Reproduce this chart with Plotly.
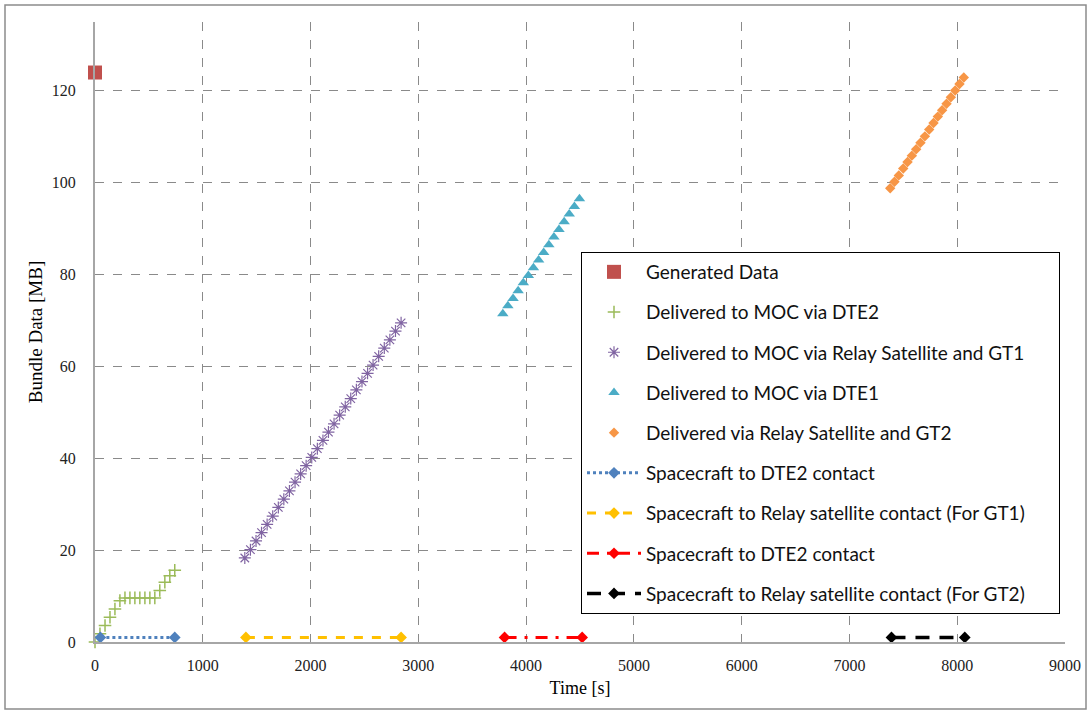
import plotly.graph_objects as go

# ---------------- data ----------------
gen_x = [0]
gen_y = [124]

dte2_x = [0, 46, 93, 139, 185, 231, 278, 324, 370, 416, 463, 509, 555, 601, 648, 694, 740]
dte2_y = [0, 1.8, 3.6, 5.4, 7.2, 9.0, 9.6, 9.6, 9.6, 9.6, 9.6, 9.6, 9.6, 11.2, 13.0, 14.4, 15.6]

gt1_x = [1390, 1442, 1494, 1545, 1597, 1649, 1701, 1752, 1804, 1856, 1908, 1959, 2011, 2063, 2115,
         2166, 2218, 2270, 2322, 2373, 2425, 2477, 2529, 2580, 2632, 2684, 2736, 2788, 2840]
gt1_y = [18.3, 20.1, 22.0, 23.8, 25.6, 27.4, 29.3, 31.1, 32.9, 34.8, 36.6, 38.4, 40.2, 42.1, 43.9,
         45.7, 47.5, 49.4, 51.2, 53.0, 54.9, 56.7, 58.5, 60.3, 62.2, 64.0, 65.8, 67.7, 69.5]

dte1_x = [3784, 3831, 3879, 3926, 3974, 4021, 4068, 4116, 4163, 4211, 4258, 4305, 4353, 4400, 4448, 4495]
dte1_y = [71.5, 73.2, 74.8, 76.5, 78.2, 79.8, 81.5, 83.2, 84.8, 86.5, 88.2, 89.8, 91.5, 93.2, 94.8, 96.5]

gt2_x = [7378, 7418, 7458, 7499, 7539, 7579, 7619, 7659, 7700, 7740, 7780, 7820, 7860, 7901, 7941,
         7981, 8021, 8061]
gt2_y = [98.8, 100.2, 101.6, 103.1, 104.5, 105.9, 107.3, 108.7, 110.1, 111.6, 113.0, 114.4, 115.8,
         117.2, 118.6, 120.1, 121.5, 122.9]

c_dte2_x = [50, 740]
c_dte2_y = [1, 1]
c_rel1_x = [1400, 2840]
c_rel1_y = [1, 1]
c_dte2b_x = [3800, 4520]
c_dte2b_y = [1, 1]
c_rel2_x = [7390, 8070]
c_rel2_y = [1, 1]

x_ticks = [0, 1000, 2000, 3000, 4000, 5000, 6000, 7000, 8000, 9000]
y_ticks = [0, 20, 40, 60, 80, 100, 120]

PAD = "\u00a0" * 6

# ---------------- figure ----------------
fig = go.Figure()

fig.add_trace(go.Scatter(x=gen_x, y=gen_y, mode="markers", name="Generated Data",
                         legendgroup="a", cliponaxis=False,
                         marker=dict(symbol="square", size=14, color="#C0504D")))
fig.add_trace(go.Scatter(x=dte2_x, y=dte2_y, mode="markers", name="Delivered to MOC via DTE2",
                         legendgroup="b", cliponaxis=False,
                         marker=dict(symbol="cross-thin-open", size=9, color="#9BBB59",
                                     line=dict(color="#9BBB59", width=1.5))))
fig.add_trace(go.Scatter(x=gt1_x, y=gt1_y, mode="markers",
                         name="Delivered to MOC via Relay Satellite and GT1" + PAD,
                         legendgroup="c", cliponaxis=False,
                         marker=dict(symbol="asterisk-open", size=10, color="#8064A2",
                                     line=dict(color="#8064A2", width=1.2))))
fig.add_trace(go.Scatter(x=dte1_x, y=dte1_y, mode="markers", name="Delivered to MOC via DTE1",
                         legendgroup="d", cliponaxis=False,
                         marker=dict(symbol="triangle-up", size=10, color="#4BACC6")))
fig.add_trace(go.Scatter(x=gt2_x, y=gt2_y, mode="markers", name="Delivered via Relay Satellite and GT2",
                         legendgroup="e", cliponaxis=False,
                         marker=dict(symbol="diamond", size=8, color="#F79646")))
fig.add_trace(go.Scatter(x=c_dte2_x, y=c_dte2_y, mode="lines+markers", name="Spacecraft to DTE2 contact",
                         legendgroup="f", cliponaxis=False,
                         line=dict(color="#4F81BD", width=3, dash="dot"),
                         marker=dict(symbol="diamond", size=9, color="#4F81BD")))
fig.add_trace(go.Scatter(x=c_rel1_x, y=c_rel1_y, mode="lines+markers",
                         name="Spacecraft to Relay satellite contact (For GT1)",
                         legendgroup="g", cliponaxis=False,
                         line=dict(color="#FFC000", width=3, dash="dash"),
                         marker=dict(symbol="diamond", size=9, color="#FFC000")))
fig.add_trace(go.Scatter(x=c_dte2b_x, y=c_dte2b_y, mode="lines+markers",
                         name="Spacecraft to DTE2 contact",
                         legendgroup="h", cliponaxis=False,
                         line=dict(color="#FF0000", width=3, dash="12px,8px,3px,8px"),
                         marker=dict(symbol="diamond", size=9, color="#FF0000")))
fig.add_trace(go.Scatter(x=c_rel2_x, y=c_rel2_y, mode="lines+markers",
                         name="Spacecraft to Relay satellite contact (For GT2)",
                         legendgroup="i", cliponaxis=False,
                         line=dict(color="#000000", width=3.5, dash="14px,10px"),
                         marker=dict(symbol="diamond", size=9, color="#000000")))

# plot area: x 95..1065, y 22..642
L, R, T, B = 95, 1065, 22, 642
W, H = R - L, B - T

def px(xpix):
    return (xpix - L) / W

def py(ypix):
    return (B - ypix) / H

fig.update_layout(
    width=1092, height=715,
    margin=dict(l=L, r=1092 - R, t=T, b=715 - B, autoexpand=False),
    paper_bgcolor="white", plot_bgcolor="white",
    font=dict(family="Liberation Serif", size=16, color="#222"),
    showlegend=True,
    legend=dict(x=px(581), y=py(252), xanchor="left", yanchor="top",
                bgcolor="white", bordercolor="#000", borderwidth=1,
                font=dict(family="Lato", size=19, color="#111"),
                traceorder="grouped", tracegroupgap=12.5,
                itemwidth=54),
    shapes=[dict(type="rect", xref="paper", yref="paper",
                 x0=px(5), x1=px(1086), y0=py(709), y1=py(5),
                 line=dict(color="#8c8c8c", width=1.5), layer="below")],
)

fig.update_xaxes(range=[0, 9000], tickvals=x_ticks, showgrid=True,
                 gridcolor="#8a8a8a", griddash="dash", gridwidth=1,
                 showline=True, linecolor="#a6a6a6", linewidth=2,
                 zeroline=False, ticks="", ticklabelstandoff=8,
                 title=dict(text="Time [s]", font=dict(family="Liberation Serif", size=18, color="#000"),
                            standoff=8))
fig.update_yaxes(range=[0, 135], tickvals=y_ticks, showgrid=True,
                 gridcolor="#8a8a8a", griddash="dash", gridwidth=1,
                 showline=True, linecolor="#a6a6a6", linewidth=2,
                 zeroline=False, ticks="", ticklabelstandoff=14,
                 title=dict(text="Bundle Data [MB]", font=dict(family="Liberation Serif", size=19, color="#000"),
                            standoff=4))

fig.write_html("out.html", post_script="document.body.style.margin='0';",
               config={"displayModeBar": False})
